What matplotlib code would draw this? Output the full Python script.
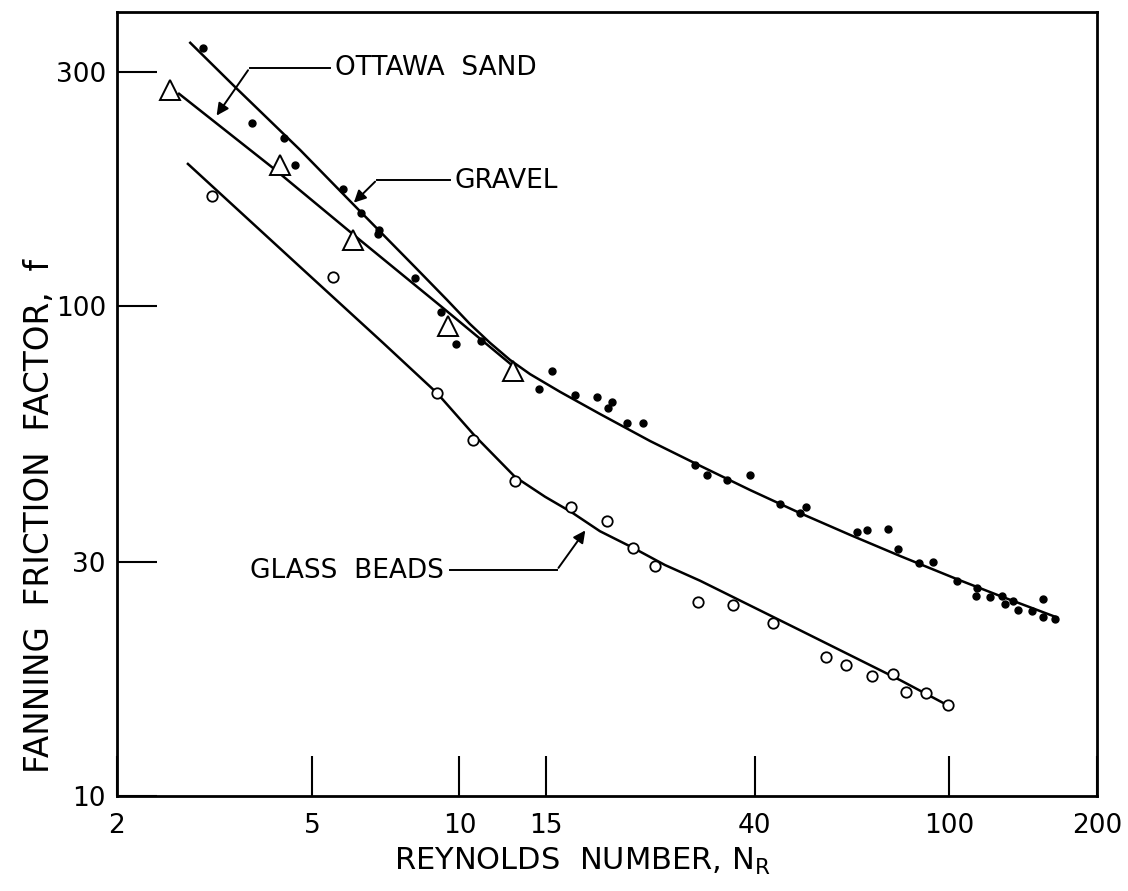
import matplotlib
matplotlib.use("Agg")
import matplotlib.pyplot as plt
from matplotlib.ticker import FixedLocator, FixedFormatter, NullLocator

plt.rcParams['font.family'] = ['DejaVu Sans']

# ---- data ----
gravel_x = [3.0, 3.77, 4.38, 4.62, 5.78, 6.30, 6.85, 6.82, 8.11, 9.17, 9.84, 11.06,
            15.45, 14.53, 17.2, 19.08, 20.48, 20.1, 21.97, 23.7, 30.2, 32.0, 35.2, 39.2,
            45.1, 49.5, 50.9, 64.7, 67.9, 74.9, 78.5, 86.6, 92.5, 103.6, 113.8, 113.5,
            120.9, 128.0, 129.8, 134.8, 138.0, 147.3, 155.2, 155.2, 164.2]
gravel_y = [336, 236, 220, 194, 173, 155, 143, 140, 114, 97.2, 83.6, 84.8,
            73.7, 67.7, 65.8, 65.2, 63.7, 61.9, 57.7, 57.7, 47.4, 45.2, 44.2, 45.2,
            39.4, 37.8, 38.9, 34.6, 34.9, 35.1, 31.9, 29.9, 30.0, 27.5, 26.6, 25.6,
            25.5, 25.6, 24.65, 25.0, 23.97, 23.85, 25.2, 23.2, 22.97]

gravel_curve_x = [2.81, 3.50, 4.73, 6.03, 8.11, 9.43, 10.50, 11.54, 12.68, 13.93,
                  16.04, 19.35, 24.5, 30.97, 39.2, 49.5, 62.7, 79.2, 103.6, 126.8, 166.5]
gravel_curve_y = [345.8, 278.5, 208.1, 162.3, 120.1, 102.9, 91.9, 84.1, 77.6, 72.6,
                  66.8, 60.2, 53.0, 47.2, 42.1, 37.8, 34.1, 30.9, 27.7, 25.6, 23.1]

sand_x = [2.568, 4.302, 6.06, 9.475, 12.86]
sand_y = [275.9, 194, 136.3, 91.0, 73.7]
sand_curve_x = [2.665, 4.164, 6.265, 9.25, 12.86]
sand_curve_y = [272, 191.2, 136.3, 99.1, 75.4]

beads_x = [3.125, 5.52, 9.0, 10.66, 12.98, 16.89, 20.0, 22.6, 25.06, 30.67, 36.15,
           43.6, 55.98, 61.5, 69.5, 76.7, 81.5, 89.5, 99.3]
beads_y = [167.7, 114.6, 66.4, 53.3, 44.0, 38.9, 36.4, 32.1, 29.4, 24.9, 24.5,
           22.55, 19.2, 18.5, 17.58, 17.74, 16.3, 16.2, 15.3]
beads_curve_x = [2.779, 4.73, 6.98, 9.0, 10.75, 12.98, 14.95, 16.89, 19.35, 22.6,
                 26.27, 30.97, 49.5, 79.2, 99.3]
beads_curve_y = [195.7, 120.1, 84.1, 66.4, 54.3, 44.8, 40.8, 38.0, 34.7, 32.1,
                 29.6, 27.5, 21.8, 17.25, 15.3]

x_ticks = [2, 5, 10, 15, 40, 100, 200]
x_tick_labels = ['2', '5', '10', '15', '40', '100', '200']
y_ticks = [10, 30, 100, 300]
y_tick_labels = ['10', '30', '100', '300']

# ---- figure ----
fig = plt.figure(figsize=(11.28, 8.91), dpi=100)
ax = fig.add_axes([117/1128, 1-796/891, 980/1128, 784/891])
ax.set_xscale('log')
ax.set_yscale('log')
ax.set_xlim(2, 200)
ax.set_ylim(10, 398)

lw = 1.8
ax.plot(gravel_curve_x, gravel_curve_y, color='black', lw=lw, solid_capstyle='butt')
ax.plot(sand_curve_x, sand_curve_y, color='black', lw=lw, solid_capstyle='butt')
ax.plot(beads_curve_x, beads_curve_y, color='black', lw=lw, solid_capstyle='butt')

ax.plot(gravel_x, gravel_y, 'o', color='black', ms=5, ls='none')
ax.plot(sand_x, sand_y, '^', mfc='white', mec='black', mew=1.4, ms=14, ls='none')
ax.plot(beads_x, beads_y, 'o', mfc='white', mec='black', mew=1.3, ms=7.5, ls='none')

for s in ax.spines.values():
    s.set_linewidth(2.0)

ax.xaxis.set_major_locator(FixedLocator(x_ticks))
ax.xaxis.set_major_formatter(FixedFormatter(x_tick_labels))
ax.xaxis.set_minor_locator(NullLocator())
ax.yaxis.set_major_locator(FixedLocator(y_ticks))
ax.yaxis.set_major_formatter(FixedFormatter(y_tick_labels))
ax.yaxis.set_minor_locator(NullLocator())
ax.tick_params(axis='both', direction='in', length=29, width=1.5, labelsize=19)
ax.tick_params(axis='x', pad=12)
ax.tick_params(axis='y', pad=8)

# ---- annotations ----
akw = dict(arrowstyle='-|>', color='black', lw=1.4, mutation_scale=18)
ax.annotate('', xy=(3.17, 242), xytext=(3.73, 306),
            arrowprops=dict(akw, connectionstyle='arc3'))
ax.plot([3.73, 5.45], [306, 306], color='black', lw=1.4)
ax.text(5.57, 306, 'OTTAWA  SAND', fontsize=19, va='center', ha='left')

ax.annotate('', xy=(6.03, 161), xytext=(6.79, 181),
            arrowprops=dict(akw, connectionstyle='arc3'))
ax.plot([6.79, 9.55], [181, 181], color='black', lw=1.4)
ax.text(9.79, 180, 'GRAVEL', fontsize=19, va='center', ha='left')

ax.annotate('', xy=(18.2, 35.2), xytext=(15.8, 28.9),
            arrowprops=dict(akw, connectionstyle='arc3'))
ax.plot([9.56, 15.8], [28.9, 28.9], color='black', lw=1.4)
ax.text(9.3, 28.8, 'GLASS  BEADS', fontsize=19, va='center', ha='right')

fig.text(40/1128, 1-516/891, 'FANNING  FRICTION  FACTOR,  f', rotation=90,
         fontsize=23.5, ha='center', va='center')
fig.text(582/1128, 1-861/891, r'REYNOLDS  NUMBER, N$_\mathregular{R}$',
         fontsize=22, ha='center', va='center')

fig.savefig('out.png', dpi=100)
